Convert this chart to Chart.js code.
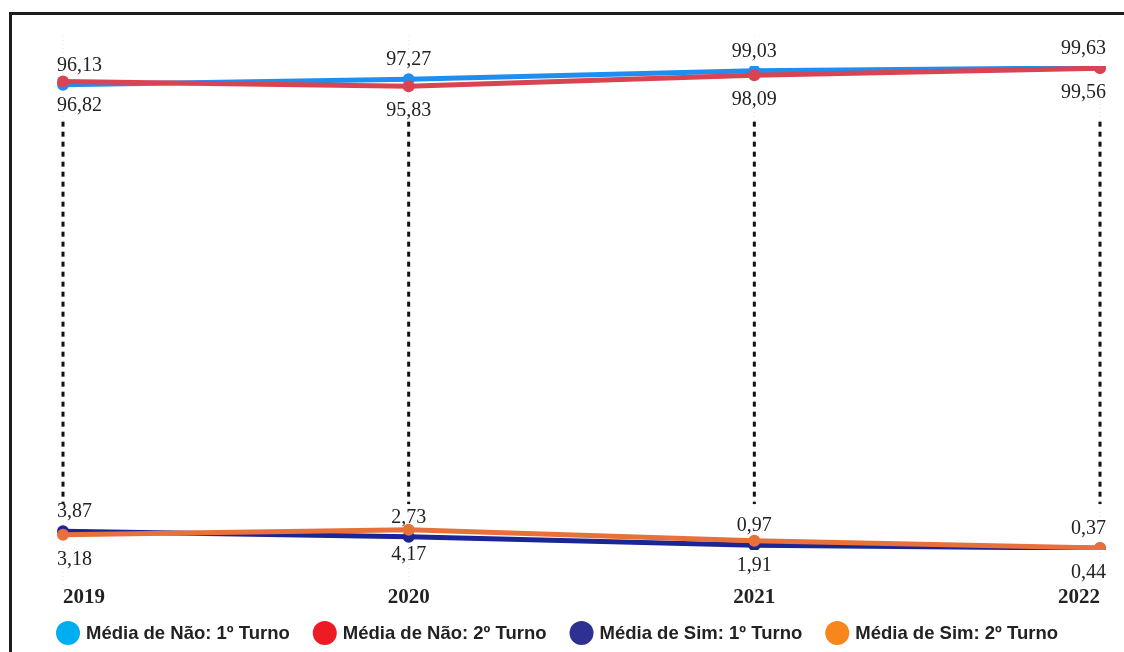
<!DOCTYPE html>
<html>
<head>
<meta charset="utf-8">
<script src="https://cdn.jsdelivr.net/npm/chart.js@4.4.1/dist/chart.umd.min.js"></script>
<style>
  html, body { margin: 0; padding: 0; background: #fff; overflow: hidden; }
  .wrap { position: relative; width: 1124px; height: 652px; }
  .frame { position: absolute; left: 9px; top: 12px; right: -10px; bottom: -10px;
    border-left: 3px solid #1c1c1c; border-top: 3px solid #1c1c1c; pointer-events: none; }
</style>
</head>
<body>
<div class="wrap">
  <canvas id="chart" width="1124" height="652"></canvas>
  <div class="frame"></div>
</div>
<script>
const years = ['2019', '2020', '2021', '2022'];
const naoTurno1 = [96.13, 97.27, 99.03, 99.63];
const naoTurno2 = [96.82, 95.83, 98.09, 99.56];
const simTurno1 = [3.87, 2.73, 0.97, 0.37];
const simTurno2 = [3.18, 4.17, 1.91, 0.44];
const seriesNames = ['Média de Não: 1º Turno', 'Média de Não: 2º Turno', 'Média de Sim: 1º Turno', 'Média de Sim: 2º Turno'];

const lineColors = ['#1e8ff0', '#d94452', '#1c2596', '#e8703a'];
const legendColors = ['#00aeef', '#ed1c24', '#2e3192', '#f7861d'];
// onde fica o rótulo de cada série
const labelSide = ['above', 'below', 'above', 'below'];

const fmt = v => v.toFixed(2).replace('.', ',');

// linhas pontilhadas verticais
const dropLines = {
  id: 'dropLines',
  beforeDatasetsDraw(chart) {
    const { ctx, scales: { x, y }, chartArea: { top, bottom } } = chart;
    ctx.save();
    years.forEach((yr, i) => {
      const px = x.getPixelForValue(i);
      // grade clarinha
      ctx.beginPath();
      ctx.strokeStyle = 'rgba(0,0,0,0.10)';
      ctx.lineWidth = 1;
      ctx.setLineDash([1, 3]);
      ctx.moveTo(px, top - 30);
      ctx.lineTo(px, bottom + 40);
      ctx.stroke();
      // pontilhado preto
      ctx.beginPath();
      ctx.strokeStyle = '#111';
      ctx.lineWidth = 3;
      ctx.setLineDash([5, 5]);
      ctx.moveTo(px, y.getPixelForValue(88.5));
      ctx.lineTo(px, y.getPixelForValue(9.5));
      ctx.stroke();
    });
    ctx.restore();
  }
};

// rótulos de valores
const valueLabels = {
  id: 'valueLabels',
  afterDatasetsDraw(chart) {
    const { ctx } = chart;
    ctx.save();
    ctx.font = '20px "Liberation Serif"';
    ctx.fillStyle = '#222';
    ctx.textBaseline = 'alphabetic';
    chart.data.datasets.forEach((ds, i) => {
      const meta = chart.getDatasetMeta(i);
      const last = meta.data.length - 1;
      meta.data.forEach((pt, j) => {
        let xx = pt.x;
        ctx.textAlign = 'center';
        if (j === 0) { ctx.textAlign = 'left'; xx = pt.x - 6; }
        if (j === last) { ctx.textAlign = 'right'; xx = pt.x + 6; }
        const yy = labelSide[i] === 'above' ? pt.y - 14 : pt.y + 30;
        ctx.fillText(fmt(ds.data[j]), xx, yy);
      });
    });
    ctx.restore();
  }
};

// legenda embaixo
const bottomLegend = {
  id: 'bottomLegend',
  afterDraw(chart) {
    const { ctx } = chart;
    ctx.save();
    ctx.font = 'bold 18.5px "Liberation Sans", Arial, sans-serif';
    const r = 12, gap = 6, space = 23, cy = 633, cx = 557;
    const widths = chart.data.datasets.map(ds => 2 * r + gap + ctx.measureText(ds.label).width);
    const total = widths.reduce((a, b) => a + b, 0) + space * (widths.length - 1);
    let x = cx - total / 2;
    chart.data.datasets.forEach((ds, i) => {
      ctx.beginPath();
      ctx.fillStyle = legendColors[i];
      ctx.arc(x + r, cy, r, 0, Math.PI * 2);
      ctx.fill();
      ctx.fillStyle = '#222';
      ctx.textAlign = 'left';
      ctx.textBaseline = 'middle';
      ctx.fillText(ds.label, x + 2 * r + gap, cy + 1);
      x += widths[i] + space;
    });
    ctx.restore();
  }
};

const allData = [naoTurno1, naoTurno2, simTurno1, simTurno2];
const datasets = allData.map((arr, i) => ({
  label: seriesNames[i],
  data: arr,
  borderColor: lineColors[i],
  backgroundColor: lineColors[i],
  pointBackgroundColor: lineColors[i],
  pointBorderColor: lineColors[i],
  borderWidth: 5,
  pointRadius: 6,
  pointBorderWidth: 0,
  fill: false,
  tension: 0,
  order: 4 - i,
}));

const config = {
  type: 'line',
  data: { labels: years, datasets: datasets },
  options: {
    responsive: false,
    animation: false,
    layout: { padding: { top: 66, right: 24, left: 0, bottom: 6 } },
    plugins: {
      tooltip: { enabled: false },
      legend: { display: false }
    },
    scales: {
      x: {
        grid: { display: false, drawTicks: false },
        border: { display: false },
        ticks: {
          align: 'inner',
          maxRotation: 0,
          padding: 0,
          color: '#222',
          font: { family: '"Liberation Serif", serif', size: 21, weight: 'bold', lineHeight: 4.57 }
        }
      },
      y: {
        min: 0,
        max: 100,
        grid: { display: false, drawTicks: false },
        border: { display: false },
        ticks: { display: false },
        afterFit(scale) { scale.width = 63; }
      }
    }
  },
  plugins: [dropLines, valueLabels, bottomLegend]
};

const myChart = new Chart(document.getElementById('chart'), config);
</script>
</body>
</html>
